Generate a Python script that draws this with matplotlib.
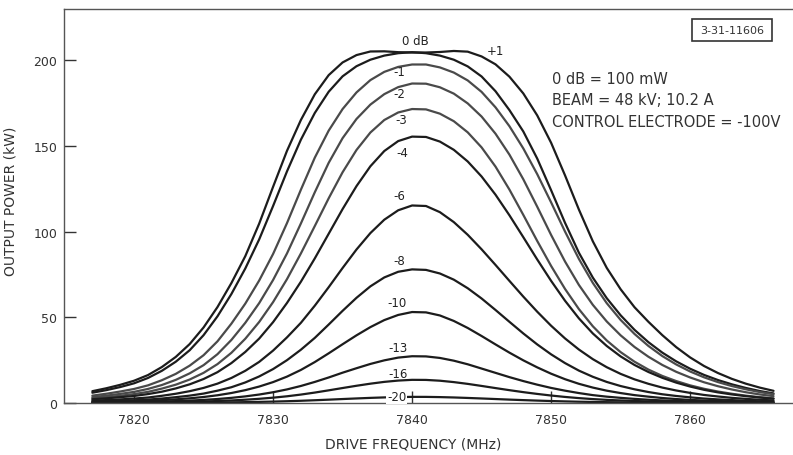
import numpy as np
import matplotlib
matplotlib.use("Agg")
import matplotlib.pyplot as plt

# drive frequency grid (MHz)
freq = list(range(7817, 7867))

# output power (kW) per drive level
p_plus1 = [6.9, 8.6, 10.6, 13.0, 16.3, 21.0, 26.9, 34.4, 44.1, 56.0,
           70.0, 85.7, 104.7, 126.2, 147.2, 165.2, 180.2, 191.4, 198.8, 203.1,
           205.2, 205.3, 204.8, 204.6, 204.6, 204.9, 205.5, 205.1, 202.3, 197.7,
           190.5, 180.7, 167.9, 151.9, 132.9, 112.9, 94.4, 78.9, 66.4, 55.9,
           47.4, 39.6, 32.6, 26.6, 21.6, 17.5, 14.1, 11.3, 9.0, 7.1]
p_0 = [6.0, 7.5, 9.3, 11.5, 14.6, 18.8, 24.1, 30.8, 39.6, 50.6,
       63.6, 78.5, 95.5, 115.0, 135.2, 153.7, 169.3, 181.7, 190.7, 196.6,
       200.4, 202.8, 204.2, 204.8, 204.2, 202.8, 200.4, 196.5, 190.6, 182.0,
       171.0, 158.5, 142.7, 124.2, 105.2, 87.7, 73.2, 61.2, 51.2, 42.7,
       35.5, 29.4, 24.3, 20.0, 16.4, 13.4, 10.9, 8.8, 7.0, 5.6]
p_m1 = [4.3, 5.4, 6.7, 8.2, 10.3, 13.3, 17.0, 21.8, 27.9, 36.0,
        46.3, 58.0, 71.5, 87.0, 105.0, 124.5, 143.2, 159.0, 171.6, 181.3,
        188.5, 193.3, 196.2, 197.6, 197.6, 195.9, 192.9, 188.3, 181.6, 172.6,
        161.6, 148.6, 133.6, 117.1, 100.1, 84.1, 70.1, 58.3, 48.5, 40.3,
        33.3, 27.4, 22.5, 18.4, 15.0, 12.2, 9.9, 8.0, 6.4, 5.1]
p_m2 = [3.4, 4.3, 5.3, 6.5, 8.2, 10.5, 13.5, 17.3, 22.1, 28.5,
        36.8, 46.8, 58.3, 71.8, 87.3, 104.8, 123.0, 140.2, 154.6, 165.8,
        174.2, 180.3, 184.4, 186.5, 186.4, 184.3, 180.6, 174.9, 167.2, 157.2,
        145.0, 130.6, 114.6, 98.1, 82.6, 68.9, 57.3, 47.6, 39.5, 32.7,
        27.0, 22.2, 18.2, 14.9, 12.1, 9.8, 7.9, 6.3, 5.0, 4.0]
p_m3 = [2.7, 3.4, 4.2, 5.2, 6.5, 8.4, 10.7, 13.7, 17.6, 22.7,
        29.3, 37.5, 47.3, 58.9, 72.3, 87.3, 103.3, 119.5, 134.7, 147.7,
        157.9, 165.2, 169.6, 171.6, 171.4, 168.9, 164.5, 158.0, 149.2, 138.0,
        124.6, 109.8, 94.6, 80.0, 66.6, 54.8, 44.8, 36.5, 29.7, 24.1,
        19.5, 15.8, 12.8, 10.3, 8.3, 6.7, 5.4, 4.3, 3.4, 2.7]
p_m4 = [2.2, 2.7, 3.4, 4.1, 5.2, 6.6, 8.5, 10.9, 14.0, 18.0,
        23.3, 29.8, 37.6, 47.2, 58.4, 70.8, 84.4, 98.8, 113.2, 126.6,
        138.2, 147.1, 152.9, 155.5, 155.3, 152.6, 147.8, 141.0, 132.2, 121.6,
        109.6, 96.8, 83.8, 71.3, 59.7, 49.4, 40.6, 33.3, 27.2, 22.2,
        18.1, 14.7, 11.9, 9.6, 7.7, 6.2, 5.0, 4.0, 3.2, 2.5]
p_m6 = [1.4, 1.7, 2.1, 2.6, 3.2, 4.2, 5.4, 6.9, 8.8, 11.3,
        14.6, 18.8, 24.0, 30.6, 38.3, 46.8, 56.8, 67.6, 78.8, 89.6,
        99.2, 107.0, 112.5, 115.3, 115.0, 111.4, 105.6, 98.2, 89.7, 80.6,
        71.3, 62.1, 53.3, 45.1, 37.7, 31.2, 25.6, 20.9, 17.0, 13.8,
        11.2, 9.0, 7.3, 5.9, 4.7, 3.8, 3.0, 2.4, 1.9, 1.5]
p_m8 = [0.9, 1.1, 1.3, 1.6, 2.0, 2.6, 3.4, 4.3, 5.5, 7.2,
        9.2, 12.0, 15.5, 19.8, 25.0, 31.1, 38.0, 45.8, 53.8, 61.4,
        68.1, 73.3, 76.6, 78.0, 77.7, 75.6, 72.0, 67.0, 61.0, 54.3,
        47.4, 40.6, 34.2, 28.4, 23.3, 18.9, 15.3, 12.3, 9.9, 8.0,
        6.4, 5.1, 4.1, 3.3, 2.6, 2.1, 1.7, 1.3, 1.0, 0.8]
p_m10 = [0.54, 0.68, 0.84, 1.04, 1.29, 1.67, 2.14, 2.73, 3.5, 4.52,
         5.83, 7.5, 9.6, 12.2, 15.4, 19.3, 23.9, 29.0, 34.3, 39.5,
         44.3, 48.4, 51.4, 53.1, 52.9, 51.1, 47.9, 43.8, 39.1, 34.2,
         29.4, 24.9, 20.8, 17.1, 13.9, 11.2, 9.0, 7.2, 5.8, 4.6,
         3.7, 2.9, 2.3, 1.8, 1.45, 1.15, 0.9, 0.72, 0.57, 0.45]
p_m13 = [0.28, 0.35, 0.43, 0.54, 0.66, 0.86, 1.1, 1.41, 1.8, 2.33,
         3.0, 3.86, 4.94, 6.28, 7.93, 9.94, 12.3, 14.9, 17.7, 20.3,
         22.8, 24.9, 26.5, 27.3, 27.2, 26.3, 24.7, 22.6, 20.1, 17.6,
         15.1, 12.8, 10.7, 8.8, 7.2, 5.8, 4.6, 3.7, 3.0, 2.4,
         1.9, 1.5, 1.2, 0.93, 0.75, 0.59, 0.46, 0.37, 0.29, 0.23]
p_m16 = [0.14, 0.17, 0.21, 0.26, 0.33, 0.43, 0.55, 0.7, 0.89, 1.15,
         1.48, 1.91, 2.45, 3.11, 3.92, 4.92, 6.09, 7.39, 8.74, 10.06,
         11.28, 12.33, 13.09, 13.52, 13.47, 13.01, 12.2, 11.16, 9.96, 8.71,
         7.49, 6.34, 5.3, 4.36, 3.54, 2.85, 2.29, 1.83, 1.48, 1.17,
         0.94, 0.74, 0.59, 0.46, 0.37, 0.29, 0.23, 0.18, 0.15, 0.11]
p_m20 = [0.04, 0.05, 0.06, 0.07, 0.09, 0.11, 0.14, 0.18, 0.24, 0.3,
         0.39, 0.51, 0.65, 0.82, 1.04, 1.3, 1.61, 1.95, 2.31, 2.66,
         2.99, 3.26, 3.46, 3.58, 3.57, 3.44, 3.23, 2.95, 2.64, 2.31,
         1.98, 1.68, 1.4, 1.15, 0.94, 0.75, 0.61, 0.49, 0.39, 0.31,
         0.25, 0.2, 0.16, 0.12, 0.1, 0.08, 0.06, 0.05, 0.04, 0.03]

curves = [p_plus1, p_0, p_m1, p_m2, p_m3, p_m4, p_m6, p_m8, p_m10, p_m13, p_m16, p_m20]
colors = ["#1c1c1c", "#1c1c1c", "#4a4a4a", "#4a4a4a", "#4a4a4a", "#1c1c1c",
          "#1c1c1c", "#1c1c1c", "#1c1c1c", "#1c1c1c", "#1c1c1c", "#1c1c1c"]

# curve labels: text, x (MHz), y (kW)
labels = ["0 dB", "+1", "-1", "-2", "-3", "-4", "-6", "-8", "-10", "-13", "-16", "-20"]
label_x = [7840.2, 7846.0, 7839.1, 7839.1, 7839.2, 7839.3, 7839.1, 7839.1, 7838.9, 7839.0, 7839.0, 7838.9]
label_y = [211.5, 205.5, 193.5, 180.5, 165.5, 146.5, 121.0, 83.0, 58.5, 32.5, 17.5, 3.6]

notes = ["0 dB = 100 mW", "BEAM = 48 kV; 10.2 A", "CONTROL ELECTRODE = -100V"]

fig = plt.figure(figsize=(7.93, 4.56), dpi=100)
ax = fig.add_axes([64 / 793, 1 - 404 / 456, 1 - 64 / 793, 394 / 456])

for p, c in zip(curves, colors):
    ax.plot(freq, p, color=c, lw=1.6, solid_capstyle="round", solid_joinstyle="round")

for t, x, y in zip(labels, label_x, label_y):
    bb = dict(facecolor="white", edgecolor="none", pad=0.5) if t == "-20" else None
    ax.text(x, y, t, ha="center", va="center", fontsize=8.5, color="#222222", bbox=bb)

ax.set_xlim(7814.96, 7867.4)
ax.set_ylim(0, 230)
ax.set_xticks([7820, 7830, 7840, 7850, 7860])
ax.set_yticks([0, 50, 100, 150, 200])
ax.tick_params(direction="in", length=8.5, width=1, color="#333333", labelsize=9,
               labelcolor="#333333")
ax.tick_params(axis="x", pad=7)
ax.tick_params(axis="y", pad=5)
for s in ["left", "bottom", "top"]:
    ax.spines[s].set_color("#555555")
    ax.spines[s].set_linewidth(1.0)
ax.spines["right"].set_visible(False)

ax.set_xlabel("DRIVE FREQUENCY (MHz)", fontsize=10, color="#333333")
ax.xaxis.set_label_coords((413 - 64) / 729, -(438 - 404) / 394)
ax.set_ylabel("OUTPUT POWER (kW)", fontsize=10, color="#333333")
ax.yaxis.set_label_coords(-(64 - 17) / 729, (404 - 201) / 394)

for i, t in enumerate(notes):
    fig.text(552 / 793, 1 - (79 + 21.7 * i) / 456, t, fontsize=10.5, color="#333333",
             ha="left", va="center")

# drawing number box
fig.text(732 / 793, 1 - 31 / 456, "3-31-11606", fontsize=8, color="#333333",
         ha="center", va="center")
box = plt.Rectangle((692 / 793, 1 - 42 / 456), 80 / 793, 22 / 456, transform=fig.transFigure,
                    fill=False, edgecolor="#333333", lw=1.2)
fig.add_artist(box)

fig.savefig("out.png", dpi=100)
